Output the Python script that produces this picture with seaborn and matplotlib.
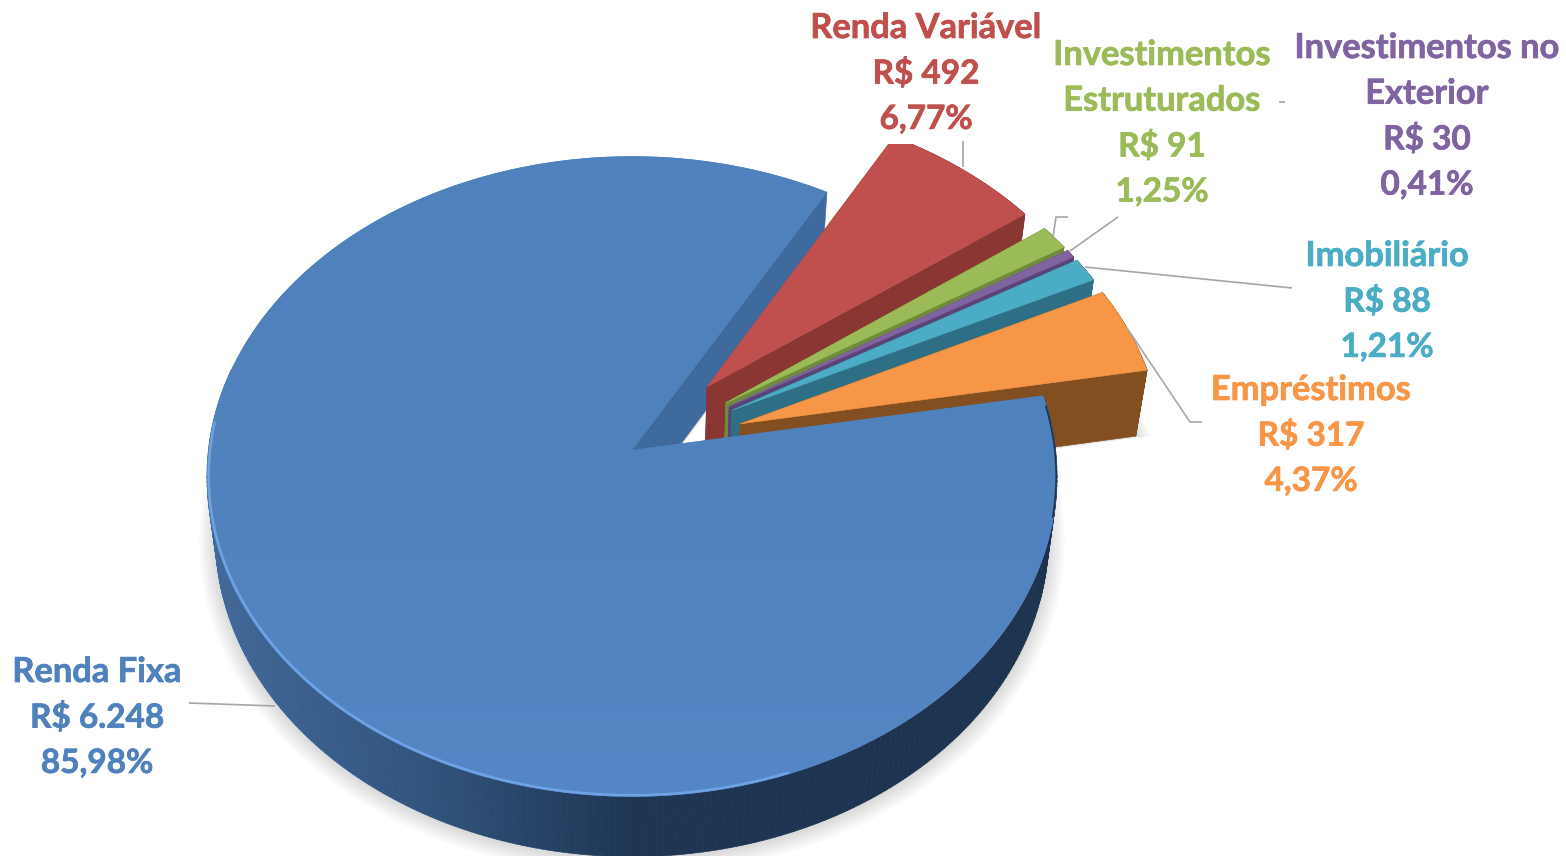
import numpy as np
import matplotlib.pyplot as plt
import seaborn as sns
import matplotlib.patheffects as pe
from matplotlib.collections import PolyCollection
from matplotlib.colors import LinearSegmentedColormap
from matplotlib.patches import Polygon, Rectangle

nomes = ["Renda Fixa", "Renda Variável", "Investimentos\nEstruturados", "Investimentos no\nExterior",
         "Imobiliário", "Empréstimos"]
reais = [6248, 492, 91, 30, 88, 317]
reais_txt = ["R$ 6.248", "R$ 492", "R$ 91", "R$ 30", "R$ 88", "R$ 317"]
percentuais = ["85,98%", "6,77%", "1,25%", "0,41%", "1,21%", "4,37%"]

cores = ["#4f81bd", "#c0504d", "#9bbb59", "#8064a2", "#4bacc6", "#f79646"]
cores_parede = ["#3f6a9e", "#8a3633", "#6f8c3a", "#5a4377", "#2f6f86", "#834f20"]
cores_texto = ["#4f81bd", "#c0504d", "#9bbb59", "#8064a2", "#4bacc6", "#f79646"]

# centro (x, topo da 1a linha) de cada rotulo
pos_rotulos = [(97, 672), (926, 28), (1162, 55), (1427, 48), (1387, 256), (1311, 390)]
linhas_guia = [
    [(189, 703), (275, 706)],
    [(963, 141), (963, 167)],
    [(1068, 217), (1056, 217), (1053, 237)],
    [(1279, 102), (1285, 102)],
    [(1118, 217), (1070, 251)],
    [(1292, 288), (1085, 267)],
    [(1202, 422), (1190, 422), (1127, 328)],
]

# perspectiva do disco
CX, CY = 632, 450
B, A, K = 423.6, 318, 0.0827
ALTURA = 60
ALTURA_FATIA = 1.1


def proj(x, y, z=0.0):
    x, y = np.asarray(x), np.asarray(y)
    w = 1 + K * y
    px = CX + B * x / w
    py = CY - A * y / w
    return px - (px - CX) * 0.02 * z, py + ALTURA * z


def arco(w, t1, t2, n=200, esc=1.0):
    t = np.radians(np.linspace(t1, t2, n))
    return w.center[0] + esc * w.r * np.cos(t), w.center[1] + esc * w.r * np.sin(t)


def pontos(xs, ys, z=0.0):
    return np.column_stack(proj(xs, ys, z))


def topo(w, esc=1.0, z=0.0):
    xs, ys = arco(w, w.theta1, w.theta2, 400, esc)
    xs = np.r_[w.center[0], xs]
    ys = np.r_[w.center[1], ys]
    return pontos(xs, ys, z)


def parede_radial(ax, w, t, cor, clip, z=1.0):
    x, y = arco(w, t, t, 2)
    x0, y0 = w.center
    a = pontos([x0, x[0]], [y0, y[0]])
    b = pontos([x[0], x0], [y[0], y0], z)
    p = Polygon(np.r_[a, b], fc=cor, ec=cor, lw=0.4)
    ax.add_patch(p)
    p.set_clip_path(clip)


def parede_arco(ax, w, t1, t2, cor_fn, clip, z=1.0):
    xs, ys = arco(w, t1, t2, 240)
    t = np.radians(np.linspace(t1, t2, 240))
    a = pontos(xs, ys)
    b = pontos(xs, ys, z)
    quads = [[a[i], a[i + 1], b[i + 1], b[i]] for i in range(len(a) - 1)]
    cs = [cor_fn(np.cos(t[i])) for i in range(len(a) - 1)]
    col = PolyCollection(quads, facecolors=cs, edgecolors=cs, linewidths=0.5)
    ax.add_collection(col)
    col.set_clip_path(clip)


def sombra(ax, w, z=1.02):
    for i in range(1, 10):
        ax.add_patch(Polygon(topo(w, 1 + i * 0.0045, z + i * 0.004), fc="#000000", ec="none", alpha=0.016))


sns.set_theme(style="white")
plt.rcParams["font.family"] = ["Lato", "DejaVu Sans"]

fig, ax = plt.subplots(figsize=(15.66, 8.56), dpi=100)
fig.subplots_adjust(0, 0, 1, 1)

wedges, _ = ax.pie(reais, startangle=10, counterclock=False, explode=[0, .27, .27, .27, .27, .27],
                   radius=1, frame=True)
for w in wedges:
    w.remove()

ax.set_aspect("auto")
ax.set_xlim(0, 1566)
ax.set_ylim(856, 0)
ax.axis("off")

corte = Rectangle((0, 144), 1566, 712, transform=ax.transData)
grad_azul = LinearSegmentedColormap.from_list(
    "az", [(0, "#43699b"), (.25, "#335680"), (.5, "#1e3553"), (1, "#1c3350")])

sombra(ax, wedges[5], ALTURA_FATIA)
sombra(ax, wedges[0])

# face interna da fatia maior fica atras de todas
parede_radial(ax, wedges[0], wedges[0].theta1, cores_parede[0], corte)

for i in range(1, 6):
    w = wedges[i]
    parede_radial(ax, w, w.theta2, cores_parede[i], corte, ALTURA_FATIA)
    parede_arco(ax, w, w.theta1, w.theta2, lambda c, cp=cores_parede[i]: cp, corte, ALTURA_FATIA)
    parede_radial(ax, w, w.theta1, cores_parede[i], corte, ALTURA_FATIA)
    p = Polygon(topo(w), fc=cores[i], ec=cores[i], lw=0.4)
    ax.add_patch(p)
    p.set_clip_path(corte)

w = wedges[0]
# so a parte da frente da borda aparece
parede_arco(ax, w, -195, w.theta2, lambda c: grad_azul((c + 1) / 2), corte)
p = Polygon(topo(w), fc=cores[0], ec="none")
ax.add_patch(p)
g = np.linspace(0, 1, 256).reshape(-1, 1)
im = ax.imshow(g, extent=(200, 1060, 800, 150), aspect="auto",
               cmap=LinearSegmentedColormap.from_list("t", ["#4f81bd", "#5082be", "#5586c5"]))
im.set_clip_path(p)
im.set_zorder(1.5)

# bordas do bisel
x, y = arco(w, 175, 290, 200, 0.996)
ax.plot(*proj(x, y), color="#6ea3e6", lw=1.8, zorder=2)
x, y = arco(w, -12, 8, 100, 0.998)
ax.plot(*proj(x, y), color="#1c3350", lw=1.2, zorder=2)

ax.set_xlim(0, 1566)
ax.set_ylim(856, 0)

for linha in linhas_guia:
    lx, ly = zip(*linha)
    ax.plot(lx, ly, color="#a6a6a6", lw=1.2, zorder=3, solid_capstyle="butt")

for nome, rs, pc, cor, (tx, ty) in zip(nomes, reais_txt, percentuais, cores_texto, pos_rotulos):
    partes = nome.split("\n")
    for j, linha in enumerate(partes + [rs, pc]):
        # digitos da Lato saem mais largos, por isso a fonte menor nos numeros
        tam = 24.8 if j < len(partes) else 24
        ax.text(tx, ty + j * 45.7, linha, color=cor, ha="center", va="center", fontsize=tam,
                fontweight="bold", zorder=4,
                path_effects=[pe.withStroke(linewidth=0.5, foreground=cor)])

plt.savefig("out.png", dpi=100)
